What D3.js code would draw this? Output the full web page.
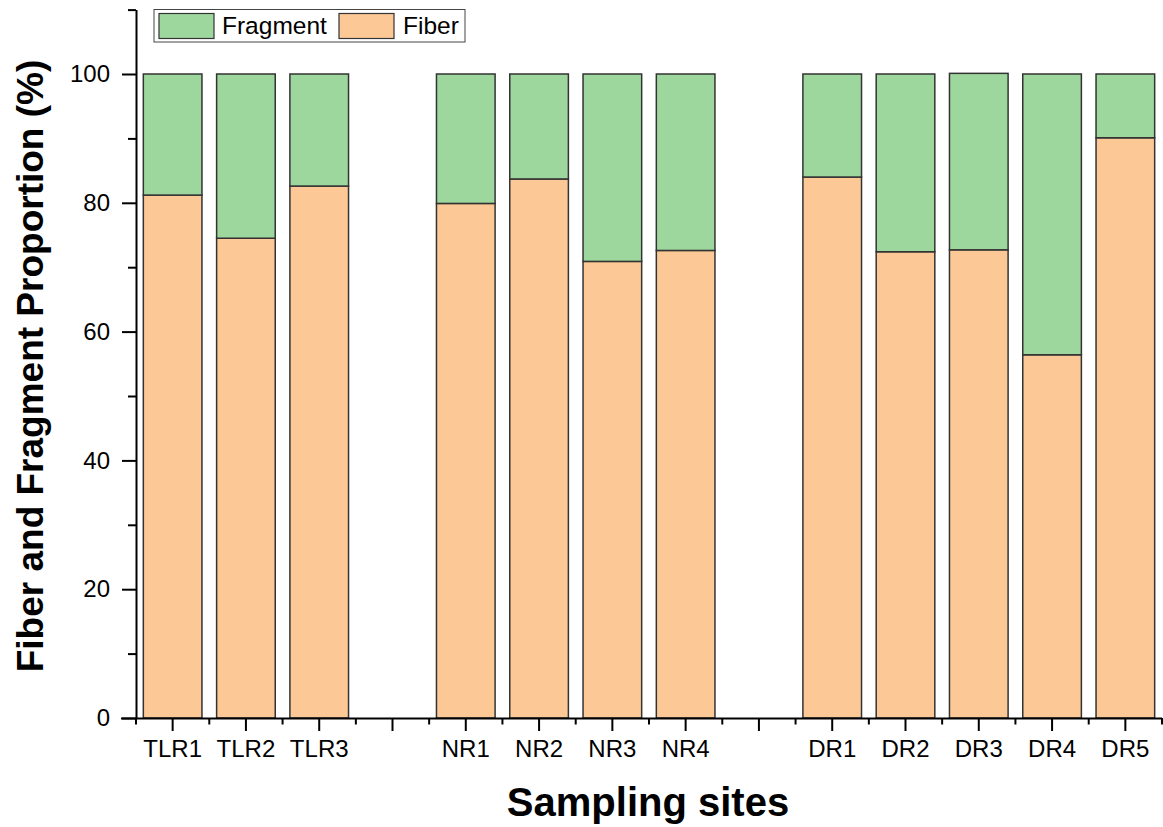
<!DOCTYPE html>
<html>
<head>
<meta charset="utf-8">
<script src="https://cdn.jsdelivr.net/npm/d3@7"></script>
<style>
  html, body { margin: 0; padding: 0; background: #fff; }
  svg { display: block; font-family: Arial, "Liberation Sans", sans-serif; }
</style>
</head>
<body>
<svg id="chart" width="1163" height="827"></svg>
<script>
// ---- data ----
const slots = ["TLR1","TLR2","TLR3","gap1","NR1","NR2","NR3","NR4","gap2","DR1","DR2","DR3","DR4","DR5"];
const sites = ["TLR1","TLR2","TLR3","NR1","NR2","NR3","NR4","DR1","DR2","DR3","DR4","DR5"];
const fiber    = [81.2, 74.5, 82.6, 79.9, 83.7, 70.9, 72.6, 84.0, 72.4, 72.7, 56.4, 90.1];
const fragment = [18.8, 25.5, 17.4, 20.1, 16.3, 29.1, 27.4, 16.0, 27.6, 27.4, 43.6, 9.9];
const yMajorTicks = [0, 20, 40, 60, 80, 100];
const yMinorTicks = [10, 30, 50, 70, 90, 110];
const seriesNames = ["Fragment", "Fiber"];

// ---- layout ----
const svg = d3.select("#chart");
const x0 = 136, x1 = 1162, yBottom = 718;
const colors = { Fiber: "#fbc896", Fragment: "#9ed79e" };

const x = d3.scaleBand().domain(slots).range([x0, x1]).paddingInner(0.2).paddingOuter(0.1);
const y = d3.scaleLinear().domain([0, 110]).range([yBottom, 9.6]);

const rows = sites.map((s, i) => ({ site: s, Fiber: fiber[i], Fragment: fragment[i] }));
const stack = d3.stack().keys(["Fiber", "Fragment"]);
const stacked = stack(rows);

const g = svg.append("g");
stacked.forEach(layer => {
  g.append("g").selectAll("rect").data(layer).join("rect")
    .attr("x", d => x(d.data.site))
    .attr("width", x.bandwidth())
    .attr("y", d => y(d[1]))
    .attr("height", d => y(d[0]) - y(d[1]))
    .attr("fill", colors[layer.key])
    .attr("stroke", "#333")
    .attr("stroke-width", 1.5);
});

// ---- y axis ----
const yAxis = svg.append("g").attr("transform", `translate(${x0},0)`)
  .call(d3.axisLeft(y).tickValues(yMajorTicks).tickSize(14).tickPadding(12).tickSizeOuter(0));
yAxis.select(".domain").attr("stroke", "#000").attr("stroke-width", 2);
yAxis.selectAll(".tick line").attr("stroke", "#000").attr("stroke-width", 2);
yAxis.selectAll(".tick text").attr("font-size", 24).attr("fill", "#000")
  .attr("font-family", "Arial, 'Liberation Sans', sans-serif");
const yMinor = svg.append("g").attr("transform", `translate(${x0},0)`)
  .call(d3.axisLeft(y).tickValues(yMinorTicks).tickSize(8).tickFormat("").tickSizeOuter(0));
yMinor.select(".domain").remove();
yMinor.selectAll(".tick line").attr("stroke", "#000").attr("stroke-width", 2);

// ---- x axis ----
const xAxis = svg.append("g").attr("transform", `translate(0,${yBottom})`)
  .call(d3.axisBottom(x).tickSize(13).tickPadding(9).tickSizeOuter(0)
    .tickFormat(d => d.startsWith("gap") ? "" : d));
xAxis.select(".domain").attr("stroke", "#000").attr("stroke-width", 2).attr("d", `M${x0 - 15},0.5H${x1}`);
xAxis.selectAll(".tick line").attr("stroke", "#000").attr("stroke-width", 2);
xAxis.selectAll(".tick text").attr("font-size", 24).attr("fill", "#000")
  .attr("font-family", "Arial, 'Liberation Sans', sans-serif");
// minor ticks at slot boundaries
const boundaries = d3.range(slots.length + 1);
const step = x.step();
svg.append("g").selectAll("line").data(boundaries).join("line")
  .attr("x1", i => x0 + i * step).attr("x2", i => x0 + i * step)
  .attr("y1", yBottom).attr("y2", yBottom + 6.5)
  .attr("stroke", "#000").attr("stroke-width", 2);

// ---- titles ----
svg.append("text").attr("x", 648).attr("y", 816).attr("text-anchor", "middle")
  .attr("font-size", 40).attr("font-weight", "bold").attr("fill", "#000")
  .text("Sampling sites");
svg.append("text").attr("transform", "translate(43,366) rotate(-90)").attr("text-anchor", "middle")
  .attr("font-size", 37).attr("font-weight", "bold").attr("fill", "#000")
  .text("Fiber and Fragment Proportion (%)");

// ---- legend ----
const leg = svg.append("g");
leg.append("rect").attr("x", 154).attr("y", 9.5).attr("width", 311).attr("height", 32.5)
  .attr("fill", "#fff").attr("stroke", "#444").attr("stroke-width", 1);
const legItems = [
  { name: seriesNames[0], sx: 159, tx: 222 },
  { name: seriesNames[1], sx: 339, tx: 403 }
];
legItems.forEach(it => {
  leg.append("rect").attr("x", it.sx).attr("y", 13.5).attr("width", 55).attr("height", 25)
    .attr("fill", colors[it.name]).attr("stroke", "#333").attr("stroke-width", 1.2);
  leg.append("text").attr("x", it.tx).attr("y", 34).attr("font-size", 24.5).attr("fill", "#000")
    .text(it.name);
});
</script>
</body>
</html>
